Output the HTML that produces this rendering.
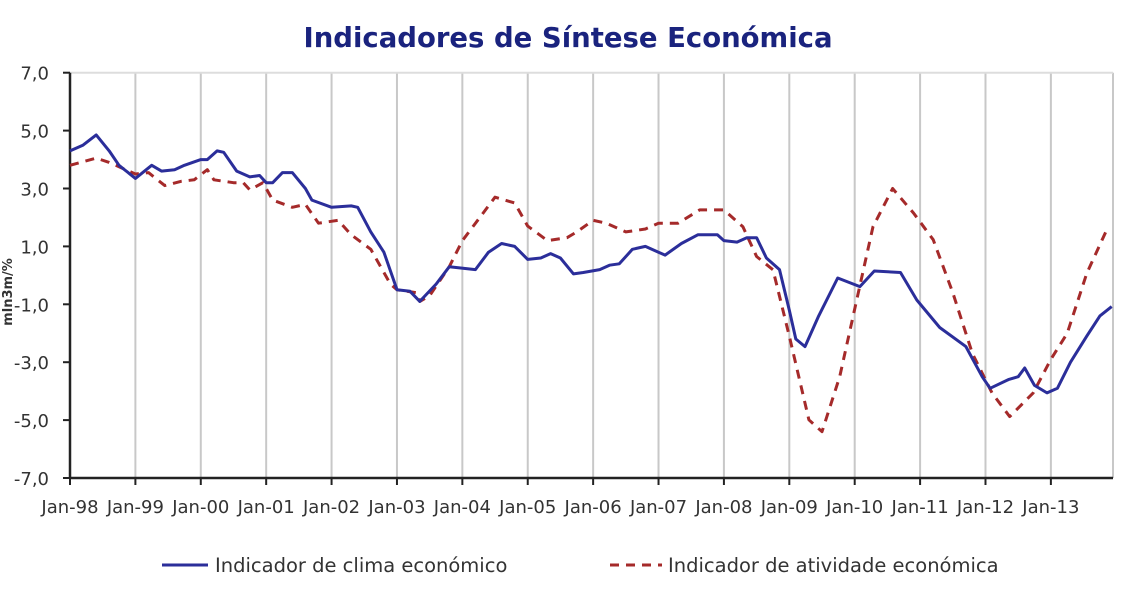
<!DOCTYPE html>
<html><head><meta charset="utf-8">
<style>
body{margin:0;background:#fff;width:1128px;height:591px;overflow:hidden;font-family:"DejaVu Sans","Liberation Sans",sans-serif;}
svg text{font-family:"DejaVu Sans","Liberation Sans",sans-serif;}
</style></head>
<body>
<svg id="chart" width="1128" height="591" viewBox="0 0 1128 591" xmlns="http://www.w3.org/2000/svg">
<text x="568" y="47" text-anchor="middle" font-size="27.5" font-weight="bold" fill="#1a237e">Indicadores de Síntese Económica</text>
<g id="grid"></g>
<g id="axes"></g>
<g id="series"></g>
<text transform="translate(12,292) rotate(-90)" text-anchor="middle" font-size="13" font-weight="bold" fill="#333">mln3m/%</text>
<g>
<line x1="162" y1="565" x2="208" y2="565" stroke="#2b2e9a" stroke-width="3"/>
<text x="215" y="572" font-size="19.5" fill="#333">Indicador de clima económico</text>
<line x1="610" y1="565" x2="662" y2="565" stroke="#a52a2a" stroke-width="3" stroke-dasharray="9,7"/>
<text x="668" y="572" font-size="19.5" fill="#333">Indicador de atividade económica</text>
</g>
</svg>
<script>
const yTicks=[7,5,3,1,-1,-3,-5,-7];
const yTickLabels=["7,0","5,0","3,0","1,0","-1,0","-3,0","-5,0","-7,0"];
const xYears=[1998,1999,2000,2001,2002,2003,2004,2005,2006,2007,2008,2009,2010,2011,2012,2013];
const xLabels=["Jan-98","Jan-99","Jan-00","Jan-01","Jan-02","Jan-03","Jan-04","Jan-05","Jan-06","Jan-07","Jan-08","Jan-09","Jan-10","Jan-11","Jan-12","Jan-13"];
const climaT=[1998.0,1998.2,1998.4,1998.6,1998.75,1999.0,1999.25,1999.4,1999.6,1999.75,2000.0,2000.1,2000.25,2000.35,2000.55,2000.75,2000.9,2001.0,2001.1,2001.25,2001.4,2001.6,2001.7,2002.0,2002.3,2002.4,2002.6,2002.8,2003.0,2003.2,2003.35,2003.6,2003.8,2004.2,2004.4,2004.6,2004.8,2005.0,2005.2,2005.35,2005.5,2005.7,2005.85,2006.1,2006.25,2006.4,2006.6,2006.8,2007.0,2007.1,2007.35,2007.6,2007.9,2008.0,2008.2,2008.35,2008.5,2008.65,2008.85,2009.0,2009.1,2009.24,2009.45,2009.74,2010.08,2010.3,2010.7,2010.95,2011.3,2011.7,2011.95,2012.07,2012.35,2012.5,2012.6,2012.75,2012.94,2013.1,2013.3,2013.55,2013.75,2013.93];
const climaV=[4.3,4.5,4.85,4.3,3.8,3.35,3.8,3.6,3.65,3.8,4.0,4.0,4.3,4.25,3.6,3.4,3.45,3.2,3.2,3.55,3.55,3.0,2.6,2.35,2.4,2.35,1.5,0.8,-0.5,-0.55,-0.9,-0.3,0.3,0.2,0.8,1.1,1.0,0.55,0.6,0.75,0.6,0.05,0.1,0.2,0.35,0.4,0.9,1.0,0.8,0.7,1.1,1.4,1.4,1.2,1.15,1.3,1.3,0.6,0.2,-1.2,-2.2,-2.46,-1.4,-0.09,-0.39,0.15,0.1,-0.85,-1.8,-2.46,-3.5,-3.9,-3.6,-3.5,-3.2,-3.8,-4.06,-3.9,-3.0,-2.1,-1.4,-1.08];
const ativT=[1998.0,1998.4,1998.6,1998.8,1999.0,1999.2,1999.45,1999.7,1999.9,2000.1,2000.2,2000.5,2000.65,2000.75,2000.95,2001.1,2001.4,2001.6,2001.8,2002.1,2002.3,2002.6,2002.9,2003.0,2003.3,2003.35,2003.5,2003.8,2004.0,2004.3,2004.5,2004.8,2005.0,2005.3,2005.6,2005.75,2006.0,2006.2,2006.5,2006.8,2007.0,2007.3,2007.63,2008.0,2008.29,2008.5,2008.75,2009.0,2009.3,2009.5,2009.77,2010.03,2010.28,2010.58,2010.9,2011.2,2011.5,2011.8,2012.1,2012.37,2012.73,2013.0,2013.25,2013.55,2013.86];
const ativV=[3.8,4.05,3.9,3.7,3.5,3.55,3.1,3.25,3.3,3.65,3.3,3.2,3.2,2.95,3.2,2.6,2.35,2.45,1.8,1.9,1.4,0.9,-0.3,-0.5,-0.6,-0.9,-0.7,0.3,1.2,2.1,2.7,2.5,1.7,1.2,1.3,1.5,1.9,1.8,1.5,1.6,1.8,1.8,2.26,2.26,1.68,0.65,0.19,-2.1,-4.99,-5.4,-3.5,-0.85,1.68,3.0,2.15,1.23,-0.6,-2.7,-4.06,-4.88,-4.06,-2.9,-2.0,0.07,1.6];

const X0=70,X1=1113,Y0=72.7,Y1=478;
const xs=t=>X0+(t-1998)*(X1-X0)/15.95;
const ys=v=>Y0+(7-v)*(Y1-Y0)/14;
const NS="http://www.w3.org/2000/svg";
function mk(tag,attrs,parent){const e=document.createElementNS(NS,tag);for(const k in attrs)e.setAttribute(k,attrs[k]);parent.appendChild(e);return e;}
const grid=document.getElementById('grid'),axes=document.getElementById('axes'),series=document.getElementById('series');
xYears.forEach((yr,i)=>{
  if(i>0){const g=mk('line',{x1:xs(yr),x2:xs(yr),y1:Y0,y2:Y1,stroke:'#c8c8c8','stroke-width':2},grid);
  
  }
  const tk=mk('line',{x1:xs(yr),x2:xs(yr),y1:Y1,y2:Y1+7,stroke:'#222','stroke-width':2},axes);
  
  
  const tx=mk('text',{x:xs(yr),y:Y1+35,'text-anchor':'middle','font-size':18,fill:'#333'},axes);
  tx.textContent=xLabels[i];
  
  
});
const rg=mk('line',{x1:X1,x2:X1,y1:Y0,y2:Y1,stroke:'#c8c8c8','stroke-width':2},grid);


const tg=mk('line',{x1:X0,x2:X1,y1:Y0,y2:Y0,stroke:'#ddd','stroke-width':2},grid);


yTicks.forEach((v,i)=>{
  const tk=mk('line',{x1:X0-7,x2:X0,y1:ys(v),y2:ys(v),stroke:'#222','stroke-width':2},axes);
  
  
  const tx=mk('text',{x:X0-21,y:ys(v)+7,'text-anchor':'end','font-size':18,fill:'#333'},axes);
  tx.textContent=yTickLabels[i];
  
  
});
const ya=mk('line',{x1:X0,x2:X0,y1:Y0,y2:Y1,stroke:'#222','stroke-width':2.5},axes);


const xa=mk('line',{x1:X0,x2:X1,y1:Y1,y2:Y1,stroke:'#222','stroke-width':2.5},axes);


function pts(T,V){return T.map((t,i)=>xs(t).toFixed(1)+','+ys(V[i]).toFixed(1)).join(' ');}
const pa=mk('polyline',{points:pts(ativT,ativV),fill:'none',stroke:'#a52a2a','stroke-width':3,'stroke-dasharray':'9,7','stroke-linejoin':'round'},series);


const pc=mk('polyline',{points:pts(climaT,climaV),fill:'none',stroke:'#2b2e9a','stroke-width':3,'stroke-linejoin':'round'},series);


</script>
</body></html>
